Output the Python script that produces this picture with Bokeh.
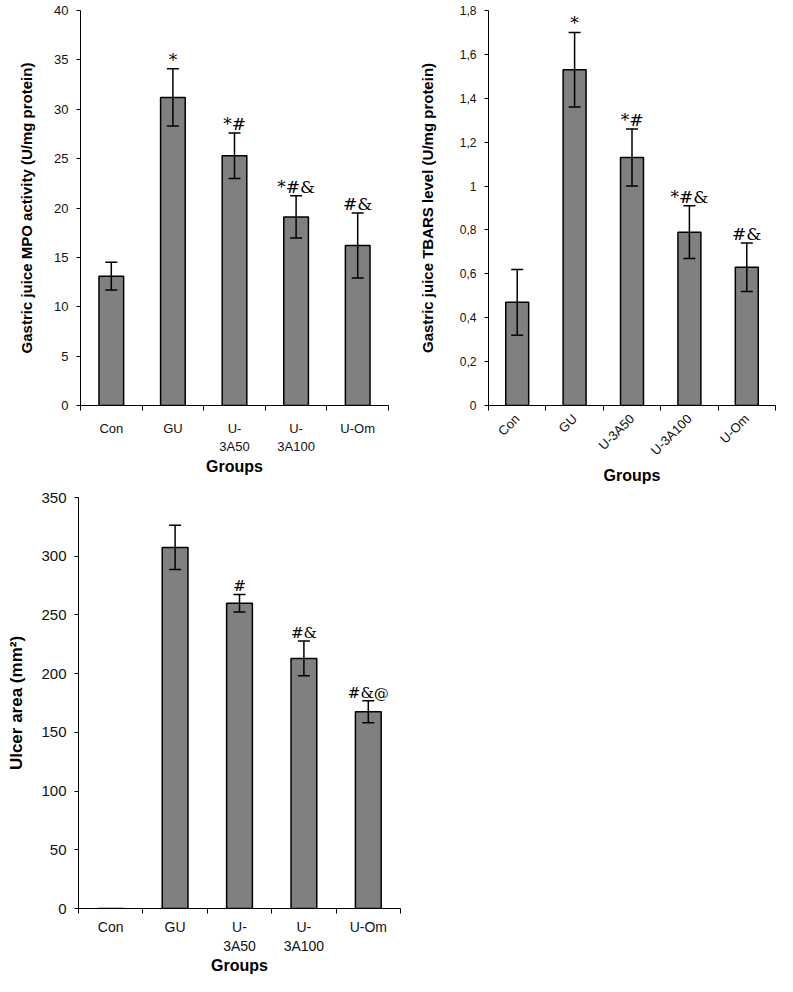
import math
from bokeh.plotting import figure
from bokeh.models import Range1d, FixedTicker, ColumnDataSource, Whisker, TeeHead
from bokeh.layouts import column, row
from bokeh.core.properties import value
from bokeh.embed import file_html
from bokeh.resources import INLINE

# ---------------- data ----------------
groups = ["Con", "GU", "U-3A50", "U-3A100", "U-Om"]
group_labels_wrapped = ["Con", "GU", "U-\n3A50", "U-\n3A100", "U-Om"]
x_title = "Groups"

mpo_mean = [13.1, 31.2, 25.3, 19.1, 16.2]
mpo_err = [1.4, 2.9, 2.3, 2.15, 3.3]
mpo_sig = ["", "*", "*#", "*#&", "#&"]
mpo_ticks = [0, 5, 10, 15, 20, 25, 30, 35, 40]
mpo_tick_labels = ["0", "5", "10", "15", "20", "25", "30", "35", "40"]

tbars_mean = [0.47, 1.53, 1.13, 0.79, 0.63]
tbars_err = [0.15, 0.17, 0.13, 0.12, 0.11]
tbars_sig = ["", "*", "*#", "*#&", "#&"]
tbars_ticks = [0, 0.2, 0.4, 0.6, 0.8, 1.0, 1.2, 1.4, 1.6, 1.8]
tbars_tick_labels = ["0", "0,2", "0,4", "0,6", "0,8", "1", "1,2", "1,4", "1,6", "1,8"]

ulcer_mean = [0, 307.5, 260, 213, 167.5]
ulcer_err = [0, 18.8, 7.5, 14.9, 9.4]
ulcer_sig = ["", "", "#", "#&", "#&@"]
ulcer_ticks = [0, 50, 100, 150, 200, 250, 300, 350]
ulcer_tick_labels = ["0", "50", "100", "150", "200", "250", "300", "350"]

TEXT = "#111111"
BAR = "#808080"


def panel(width, height, borders, y_end, y_ticks, y_labels, y_title, y_title_size,
          means, errs, sigs, x_labels, tick_size, x_tick_size, x_orient, sig_size,
          group_size, y_standoff, title_standoff, x_standoff, group_standoff):
    p = figure(width=width, height=height, output_backend="svg", toolbar_location=None,
               x_range=Range1d(0, len(groups)), y_range=Range1d(0, y_end))
    p.min_border_left, p.min_border_right, p.min_border_top, p.min_border_bottom = borders
    p.outline_line_color = None
    p.grid.visible = False
    p.background_fill_color = "white"
    p.border_fill_color = "white"

    xs = [i + 0.5 for i in range(len(groups))]
    src = ColumnDataSource(dict(x=xs, top=means))
    p.vbar(x="x", top="top", width=0.4, bottom=0, source=src,
           fill_color=BAR, line_color="black", line_width=1.5)

    keep = [i for i in range(len(groups)) if means[i] > 0]
    wsrc = ColumnDataSource(dict(
        x=[xs[i] for i in keep],
        upper=[means[i] + errs[i] for i in keep],
        lower=[means[i] - errs[i] for i in keep],
        sig=[sigs[i] for i in keep],
    ))
    w = Whisker(base="x", upper="upper", lower="lower", source=wsrc,
                line_color="black", line_width=1.5, level="overlay",
                upper_head=TeeHead(size=12, line_width=1.5, line_color="black"),
                lower_head=TeeHead(size=12, line_width=1.5, line_color="black"))
    p.add_layout(w)
    p.text(x="x", y="upper", text="sig", source=wsrc, text_align="center",
           text_baseline="bottom", text_font=value("DejaVu Serif"),
           text_font_size=sig_size, text_color="black", y_offset=1)

    # y axis
    ya = p.yaxis[0]
    ya.ticker = FixedTicker(ticks=y_ticks)
    ya.major_label_overrides = {t: l for t, l in zip(y_ticks, y_labels)}
    ya.major_tick_out = 4
    ya.major_tick_in = 0
    ya.minor_tick_out = 0
    ya.minor_tick_in = 0
    ya.axis_line_color = "black"
    ya.major_tick_line_color = "black"
    ya.major_label_text_font = "Liberation Sans"
    ya.major_label_text_font_size = tick_size
    ya.major_label_text_color = TEXT
    ya.major_label_standoff = y_standoff
    ya.axis_label = y_title
    ya.axis_label_text_font = "Liberation Sans"
    ya.axis_label_text_font_style = "bold"
    ya.axis_label_text_font_size = y_title_size
    ya.axis_label_text_color = "black"
    ya.axis_label_standoff = title_standoff

    # x axis
    xa = p.xaxis[0]
    xa.ticker = FixedTicker(ticks=xs, minor_ticks=list(range(len(groups) + 1)))
    xa.major_label_overrides = {t: l for t, l in zip(xs, x_labels)}
    xa.major_tick_out = 0
    xa.major_tick_in = 0
    xa.minor_tick_out = 5
    xa.minor_tick_in = 0
    xa.minor_tick_line_color = "black"
    xa.axis_line_color = "black"
    xa.major_label_text_font = "Liberation Sans"
    xa.major_label_text_font_size = x_tick_size
    xa.major_label_text_color = TEXT
    xa.major_label_standoff = x_standoff
    if x_orient is not None:
        xa.major_label_orientation = x_orient
    xa.axis_label = x_title
    xa.axis_label_text_font = "Liberation Sans"
    xa.axis_label_text_font_style = "bold"
    xa.axis_label_text_font_size = group_size
    xa.axis_label_text_color = "black"
    xa.axis_label_standoff = group_standoff
    return p


p1 = panel(390, 487, (80, 2, 10, 81), 40, mpo_ticks, mpo_tick_labels,
           "Gastric juice MPO activity (U/mg protein)", "15px",
           mpo_mean, mpo_err, mpo_sig, group_labels_wrapped, "13px", "13px", None,
           "17px", "16px", 8, 16, 10, 1)

p2 = panel(387, 487, (98, 2, 10, 81), 1.8, tbars_ticks, tbars_tick_labels,
           "Gastric juice TBARS level (U/mg protein)", "15px",
           tbars_mean, tbars_err, tbars_sig, groups, "12px", "13px", math.pi / 4,
           "17px", "16px", 8, 21, 6, 1)

p3 = panel(405, 489, (78, 5, 10, 68), 350, ulcer_ticks, ulcer_tick_labels,
           "Ulcer area (mm²)", "17px",
           ulcer_mean, ulcer_err, ulcer_sig, group_labels_wrapped, "15px", "14px", None,
           "15px", "16px", 8, 12, 5, 0)

layout = column(row(p1, p2), p3)
open("out.html", "w").write(file_html(layout, INLINE))
